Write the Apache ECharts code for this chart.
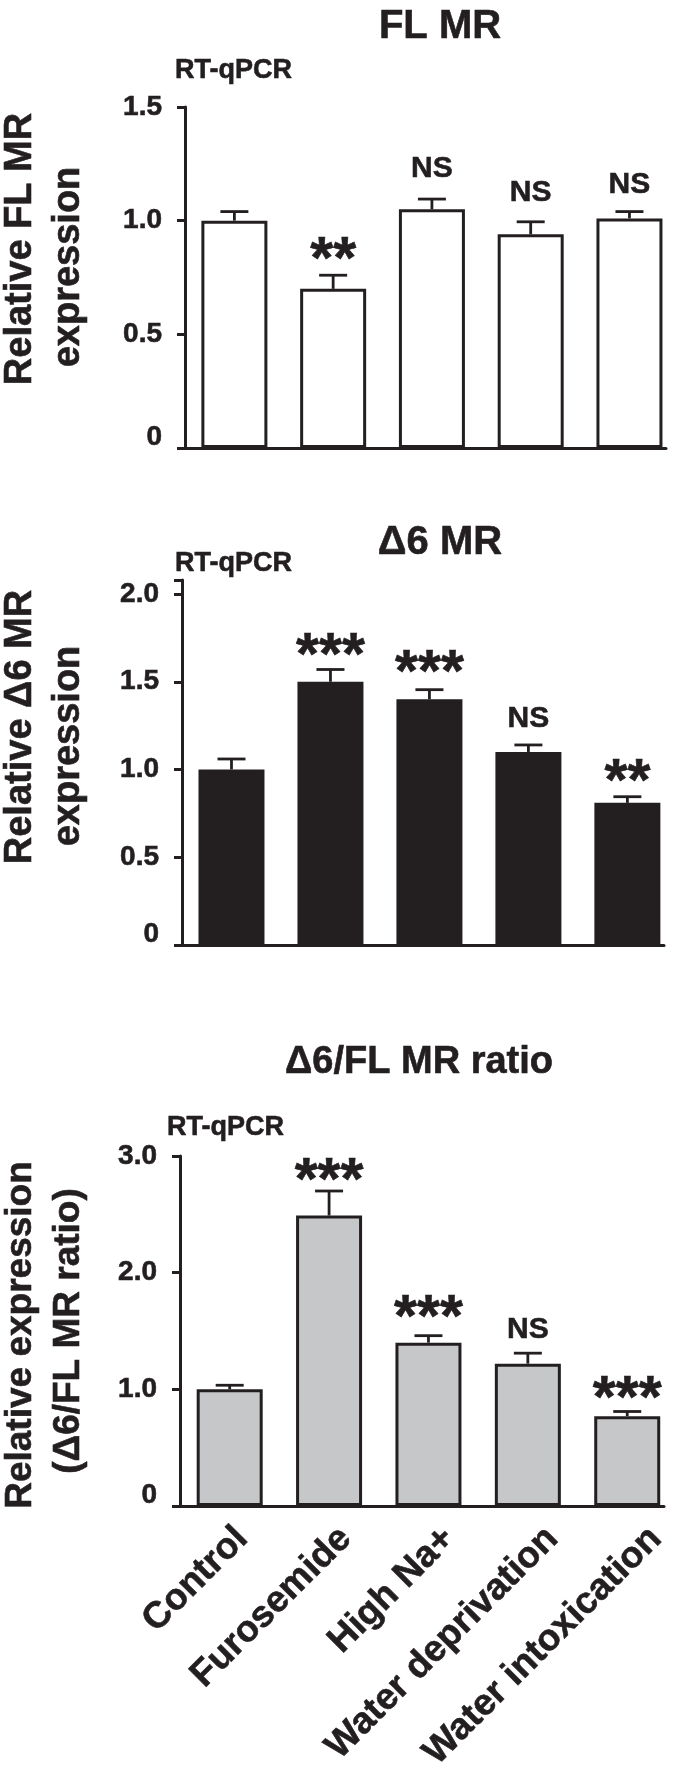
<!DOCTYPE html>
<html><head><meta charset="utf-8">
<script src="https://cdn.jsdelivr.net/npm/echarts@6/dist/echarts.min.js"></script>
<style>html,body{margin:0;padding:0;background:#fff}#c{width:675px;height:1778px}</style>
</head><body><div id="c"></div>
<script>
// ---- data ----
const categories = ['Control', 'Furosemide', 'High Na+', 'Water deprivation', 'Water intoxication'];

const flMean = [1.00, 0.70, 1.05, 0.94, 1.01];
const flErr  = [0.04, 0.06, 0.045, 0.055, 0.03];
const flSig  = ['', '**', 'NS', 'NS', 'NS'];
const flSigY = [null, 0.88, 1.23, 1.125, 1.16];
const flTicks = [0, 0.5, 1.0, 1.5];
const flTickLabels = ['0', '0.5', '1.0', '1.5'];

const d6Mean = [1.00, 1.50, 1.40, 1.10, 0.81];
const d6Err  = [0.06, 0.07, 0.055, 0.04, 0.035];
const d6Sig  = ['', '***', '***', 'NS', '**'];
const d6SigY = [null, 1.72, 1.62, 1.29, 1.00];
const d6Ticks = [0, 0.5, 1.0, 1.5, 2.0];
const d6TickLabels = ['0', '0.5', '1.0', '1.5', '2.0'];

const ratioMean = [1.00, 2.49, 1.40, 1.22, 0.77];
const ratioErr  = [0.035, 0.21, 0.06, 0.09, 0.04];
const ratioSig  = ['', '***', '***', 'NS', '***'];
const ratioSigY = [null, 2.89, 1.72, 1.51, 1.02];
const ratioTicks = [0, 1.0, 2.0, 3.0];
const ratioTickLabels = ['0', '1.0', '2.0', '3.0'];

// ---- styling ----
const INK = '#231f20';
const FONT = "'Liberation Sans', Arial, Helvetica, sans-serif";

const chart = echarts.init(document.getElementById('c'), null, {renderer: 'canvas'});

function tickFormatter(ticks, labels) {
  return function (v) {
    for (let i = 0; i < ticks.length; i++) {
      if (Math.abs(v - ticks[i]) < 1e-6) return ticks[i] === 0 ? '{z|' + labels[i] + '}' : labels[i];
    }
    return '';
  };
}

function errRender(params, api) {
  const x = api.value(0), m = api.value(1), e = api.value(2);
  const p0 = api.coord([x, m]);
  const p1 = api.coord([x, m + e]);
  const hw = 14;
  return {
    type: 'group',
    children: [
      {type: 'line', shape: {x1: p0[0], y1: p0[1], x2: p1[0], y2: p1[1]}, style: {stroke: INK, lineWidth: 2.8}},
      {type: 'line', shape: {x1: p1[0] - hw, y1: p1[1], x2: p1[0] + hw, y2: p1[1]}, style: {stroke: INK, lineWidth: 2.8}}
    ]
  };
}

function sigRenderFactory(texts) {
  return function (params, api) {
    const i = params.dataIndex;
    const t = texts[i];
    const yv = api.value(1);
    if (!t || yv == null || isNaN(yv)) return null;
    const p = api.coord([api.value(0), yv]);
    const star = t.indexOf('*') >= 0;
    const fs = star ? 59 : 30;
    return {
      type: 'text',
      x: p[0], y: p[1] + (star ? 0.24 * fs : 0),
      style: {
        text: t, fill: INK, fontSize: fs, fontWeight: 'bold', fontFamily: FONT,
        stroke: INK, lineWidth: 0.6,
        align: 'center', verticalAlign: 'middle', textAlign: 'center', textVerticalAlign: 'middle'
      }
    };
  };
}

const grids = [
  {left: 185, top: 107, width: 481, height: 341, containLabel: false, outerBoundsMode: 'none'},
  {left: 182, top: 580, width: 482, height: 365, containLabel: false, outerBoundsMode: 'none'},
  {left: 180, top: 1156, width: 484, height: 350, containLabel: false, outerBoundsMode: 'none'}
];
const yMax = [1.5, 2.08, 3.0];
const yInt = [0.5, 0.5, 1.0];
const tickSets = [[flTicks, flTickLabels], [d6Ticks, d6TickLabels], [ratioTicks, ratioTickLabels]];
const means = [flMean, d6Mean, ratioMean];
const errs = [flErr, d6Err, ratioErr];
const sigs = [flSig, d6Sig, ratioSig];
const sigYs = [flSigY, d6SigY, ratioSigY];
const fills = ['#ffffff', INK, '#c6c7c8'];

const xAxes = [], yAxes = [], series = [];
for (let g = 0; g < 3; g++) {
  xAxes.push({
    gridIndex: g, type: 'value', position: 'bottom', min: -0.5, max: 4.37, interval: 0.5,
    axisLine: {show: true, onZero: false, lineStyle: {color: INK, width: 3}},
    axisTick: {show: false}, splitLine: {show: false},
    axisLabel: {show: false}
  });
  yAxes.push({
    gridIndex: g, type: 'value', position: 'left', min: 0, max: yMax[g], interval: yInt[g],
    axisLine: {show: true, onZero: false, lineStyle: {color: INK, width: 3}},
    axisTick: {show: true, inside: false, length: 8, lineStyle: {color: INK, width: 3}},
    splitLine: {show: false},
    axisLabel: {
      show: true, margin: 23, color: INK, fontSize: 28, fontWeight: 'bold', fontFamily: FONT,
      textBorderColor: INK, textBorderWidth: 0.6,
      formatter: tickFormatter(tickSets[g][0], tickSets[g][1]),
      rich: {
        z: {
          color: INK, fontSize: 28, fontWeight: 'bold', fontFamily: FONT,
          textBorderColor: INK, textBorderWidth: 0.6, padding: [0, 0, 22, 0]
        }
      }
    }
  });
  series.push({
    type: 'bar', xAxisIndex: g, yAxisIndex: g, barWidth: 66,
    data: means[g].map((v, i) => [i, v]),
    itemStyle: {color: fills[g], borderColor: INK, borderWidth: 3},
    silent: true, z: 2
  });
  series.push({
    type: 'custom', xAxisIndex: g, yAxisIndex: g, renderItem: errRender,
    data: means[g].map((v, i) => [i, v, errs[g][i]]),
    encode: {x: 0, y: 1}, silent: true, z: 3
  });
  series.push({
    type: 'custom', xAxisIndex: g, yAxisIndex: g, renderItem: sigRenderFactory(sigs[g]),
    data: sigYs[g].map((v, i) => [i, v == null ? NaN : v]),
    encode: {x: 0, y: 1}, silent: true, z: 4
  });
}
// category label axis on the bottom grid (labels fan out slightly right of the bar centres, as in the figure)
xAxes.push({
  gridIndex: 2, type: 'value', position: 'bottom', offset: 0, min: -0.6, max: 4.08, interval: 0.1,
  axisLine: {show: false, onZero: false}, axisTick: {show: false}, splitLine: {show: false},
  axisLabel: {
    show: true, rotate: 45, margin: 27, color: INK, fontSize: 37, fontWeight: 'bold', fontFamily: FONT,
    textBorderColor: INK, textBorderWidth: 0.6, hideOverlap: false,
    formatter: function (v) {
      const r = Math.round(v);
      if (Math.abs(v - r) < 1e-6 && r >= 0 && r < categories.length) return categories[r];
      return '';
    }
  }
});

function txt(x, y, text, fs, opts) {
  opts = opts || {};
  return {
    type: 'text', x: x, y: y, rotation: opts.rot || 0, silent: true,
    style: {
      text: text, fill: INK, fontSize: fs, fontWeight: 'bold', fontFamily: FONT,
      stroke: INK, lineWidth: 0.6,
      align: opts.align || 'center', verticalAlign: 'middle'
    }
  };
}
const R = Math.PI / 2;
const graphics = [
  txt(440, 27, 'FL MR', 40),
  txt(175, 71, 'RT-qPCR', 27, {align: 'left'}),
  txt(21, 249, 'Relative FL MR', 38, {rot: R}),
  txt(69, 267, 'expression', 38, {rot: R}),

  txt(440, 543, '\u03946 MR', 40),
  txt(175, 564, 'RT-qPCR', 27, {align: 'left'}),
  txt(21, 727, 'Relative \u03946 MR', 38, {rot: R}),
  txt(69, 746, 'expression', 38, {rot: R}),

  txt(419, 1063, '\u03946/FL MR ratio', 38),
  txt(167, 1128, 'RT-qPCR', 27, {align: 'left'}),
  txt(21, 1335, 'Relative expression', 37, {rot: R}),
  txt(69, 1331, '(\u03946/FL MR ratio)', 37, {rot: R})
];

chart.setOption({
  animation: false,
  backgroundColor: '#ffffff',
  grid: grids,
  xAxis: xAxes,
  yAxis: yAxes,
  series: series,
  graphic: {elements: graphics}
});
</script>
</body></html>
